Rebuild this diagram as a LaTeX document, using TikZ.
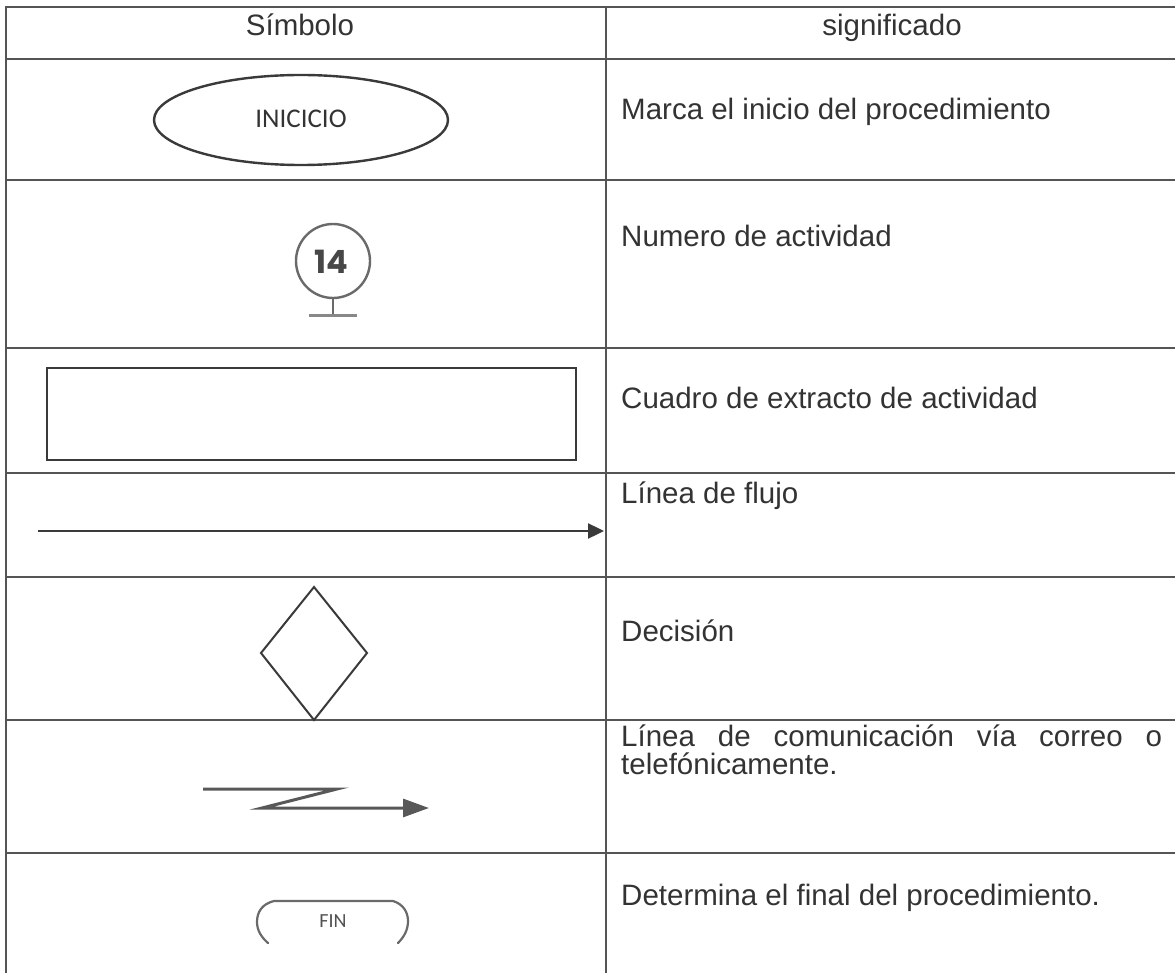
\documentclass[tikz,border=0pt]{standalone}
\usepackage{fontspec}
\setmainfont{Liberation Sans}
\newfontfamily\calib{Carlito}
\newfontfamily\numfont{Poppins}
\usetikzlibrary{arrows.meta}
\definecolor{ink}{HTML}{333333}
\definecolor{rule}{HTML}{555555}
\definecolor{shape}{HTML}{3A3A3A}
\definecolor{soft}{HTML}{6A6A6A}
\tikzset{
  gridline/.style={draw=rule, line width=1.4pt},
  txt/.style={anchor=base west, inner sep=0pt, text=ink, font=\fontsize{29.5}{28}\selectfont},
  head/.style={anchor=base, inner sep=0pt, text=ink, font=\fontsize{29.5}{28}\selectfont},
  shapeline/.style={draw=shape, line width=2pt},
}
\begin{document}
\begin{tikzpicture}[x=1pt,y=-1pt]
\useasboundingbox (0,0) rectangle (1175,973);
\fill[white] (0,0) rectangle (1175,973);
% table grid
\foreach \yy in {7,59,180,348,473,577,720,853}{
  \draw[gridline] (5,\yy) -- (1175,\yy);
}
\draw[gridline] (6,7) -- (6,973);
\draw[gridline] (606,7) -- (606,973);
% header
\node[head] (h1) at (300,36) {Símbolo};
\node[head] (h2) at (892,36) {significado};
% row 1: inicio
\draw[shapeline, line width=2.4pt] (301,120) ellipse [x radius=147, y radius=45];
\node[inner sep=0pt, text=ink, font=\calib\fontsize{27}{27}\selectfont] (ini) at (301,119) {INICICIO};
\node[txt] (t1) at (621,120) {Marca el inicio del procedimiento};
% row 2: numero de actividad
\draw[draw=soft, line width=2.4pt] (333,261) circle [radius=37];
\node[inner sep=0pt, text=ink!90, font=\numfont\bfseries\fontsize{32}{32}\selectfont] (num) at (331,262) {14};
\coordinate (stemtop) at (333,298);
\coordinate (stembot) at (333,316);
\draw[draw=soft, line width=2pt] (stemtop) -- (stembot);
\draw[draw=soft!80, line width=3pt] (309,316) -- (357,316);
\node[txt] (t2) at (621,247) {Numero de actividad};
% row 3: rectangle
\draw[shapeline, line width=2.4pt] (47,368) rectangle (576,460);
\node[txt] (t3) at (621,408) {Cuadro de extracto de actividad};
% row 4: flow line
\coordinate (fa) at (38,531);
\coordinate (fb) at (604,531);
\draw[draw=shape, line width=2.4pt, -{Triangle[length=16pt,width=15pt]}] (fa) -- (fb);
\node[txt] (t4) at (621,503) {Línea de flujo};
% row 5: decision
\draw[draw=shape, line width=2pt, line join=miter] (314,587) -- (367,653) -- (314,720) -- (261,653) -- cycle;
\node[txt] (t5) at (621,641) {Decisión};
% row 6: communication line
\coordinate (za) at (203,789);
\coordinate (zb) at (337,789);
\coordinate (zc) at (262,808);
\coordinate (zd) at (429,808);
\draw[draw=shape!85, line width=3pt, line join=miter, -{Triangle[length=26pt,width=18pt]}] (za) -- (zb) -- (zc) -- (zd);
\node[txt] (t6a) at (621,746) {\makebox[541pt][s]{Línea de comunicación vía correo o}};
\node[txt] (t6b) at (621,774) {telefónicamente.};
% row 7: fin
\draw[draw=soft, line width=2.2pt, line cap=round]
  (268,943) .. controls (261,937) and (257,930) .. (257,922)
  .. controls (257,912) and (262,904) .. (274,901) -- (393,901)
  .. controls (403,904) and (408,912) .. (408,921)
  .. controls (408,930) and (404,937) .. (398,943);
\node[inner sep=0pt, text=ink!85, font=\calib\fontsize{20}{20}\selectfont] (fin) at (333,921) {FIN};
\node[txt] (t7) at (621,905) {Determina el final del procedimiento.};
\end{tikzpicture}
\end{document}
